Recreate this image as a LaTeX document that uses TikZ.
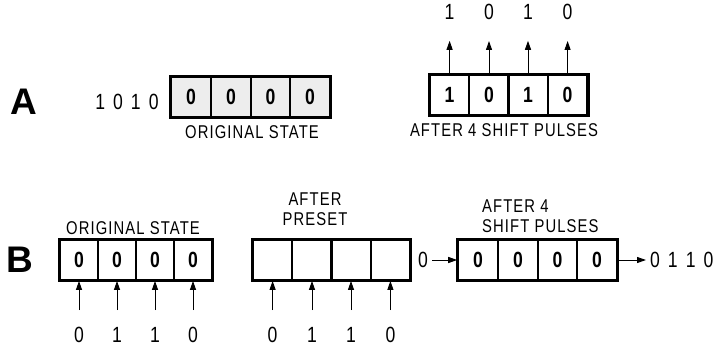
\documentclass[tikz,border=0pt]{standalone}
\usepackage{fontspec}
\setmainfont[FakeStretch=0.8]{Liberation Sans}
\newfontfamily\lblfont[FakeStretch=0.8, LetterSpace=6]{Liberation Sans}
\newfontfamily\panelfont{Liberation Sans}
\usetikzlibrary{arrows.meta}
\begin{document}
\begin{tikzpicture}[x=1pt,y=-1pt,
  cell/.style={draw, line width=1.8pt, minimum width=#1, minimum height=40pt, inner sep=0pt,
    font=\fontsize{22}{22}\selectfont\bfseries},
  frame/.style={line width=2.8pt},
  lbl/.style={font=\lblfont\fontsize{18.5}{20}\selectfont, inner sep=0pt},
  dig/.style={font=\fontsize{22}{22}\selectfont, inner sep=0pt},
  panel/.style={font=\panelfont\fontsize{37}{37}\selectfont\bfseries, inner sep=0pt},
  arr/.style={line width=1pt, -{Triangle[length=9pt,width=6pt]}}
]
\useasboundingbox (0,0) rectangle (716,348);

% ---------- Panel A ----------
\node[panel] (pA) at (24,102) {A};
\node[dig] (inA) at (127,102) {1\hspace{8pt}0\hspace{8pt}1\hspace{8pt}0};
\foreach \i/\x in {1/191,2/231,3/270.5,4/310}
  \node[cell=39.75pt, fill=gray!14] (al\i) at (\x,97) {0};
\draw[frame] (al1.north west) rectangle (al4.south east);
\node[lbl] (tAl) at (252,132) {ORIGINAL STATE};

\foreach \i/\x/\t in {1/449.6/1,2/489/0,3/528/1,4/567.6/0}{
  \node[cell=39.25pt] (ar\i) at (\x,95) {\t};
  \node[dig] (ot\i) at (\x,12) {\t};
}
\draw[frame] (ar1.north west) rectangle (ar4.south east);
\foreach \i in {1,2,3,4}
  \draw[arr, shorten >=21pt] (ar\i.north) -- (ot\i);
\node[lbl] (tAr) at (504,130) {AFTER 4 SHIFT PULSES};

% ---------- Panel B ----------
\node[panel] (pB) at (20,260) {B};

\foreach \i/\x/\t in {1/79/0,2/117/1,3/155/1,4/193/0}{
  \node[cell=38pt] (ba\i) at (\x,260) {0};
  \node[dig] (ia\i) at (\x,335) {\t};
  \draw[arr, shorten <=17pt] (ia\i) -- (ba\i.south);
}
\draw[frame] (ba1.north west) rectangle (ba4.south east);
\node[lbl] (tB1) at (133,228) {ORIGINAL STATE};

\foreach \i/\x/\t in {1/272.6/0,2/312/1,3/351/1,4/390.4/0}{
  \node[cell=39.25pt] (bb\i) at (\x,260) {};
  \node[dig] (ib\i) at (\x,335) {\t};
  \draw[arr, shorten <=17pt] (ib\i) -- (bb\i.south);
}
\draw[frame] (bb1.north west) rectangle (bb4.south east);
\node[lbl, align=center] (tB2) at (315,209) {AFTER\\PRESET};

\foreach \i/\x in {1/478,2/518,3/557.6,4/597}
  \node[cell=39.75pt] (bc\i) at (\x,260) {0};
\draw[frame] (bc1.north west) rectangle (bc4.south east);
\node[lbl, align=left, anchor=west] (tB3) at (482,216) {AFTER 4\\SHIFT PULSES};

\node[dig] (inB) at (423,260) {0};
\path (inB.east) ++(4pt,0) coordinate (inBs);
\draw[arr] (inBs) -- (bc1.west);
\node[dig, anchor=west] (outB) at (650,260) {0\hspace{8pt}1\hspace{8pt}1\hspace{8pt}0};
\draw[arr, shorten >=4pt] (bc4.east) -- (outB.west);
\end{tikzpicture}
\end{document}
